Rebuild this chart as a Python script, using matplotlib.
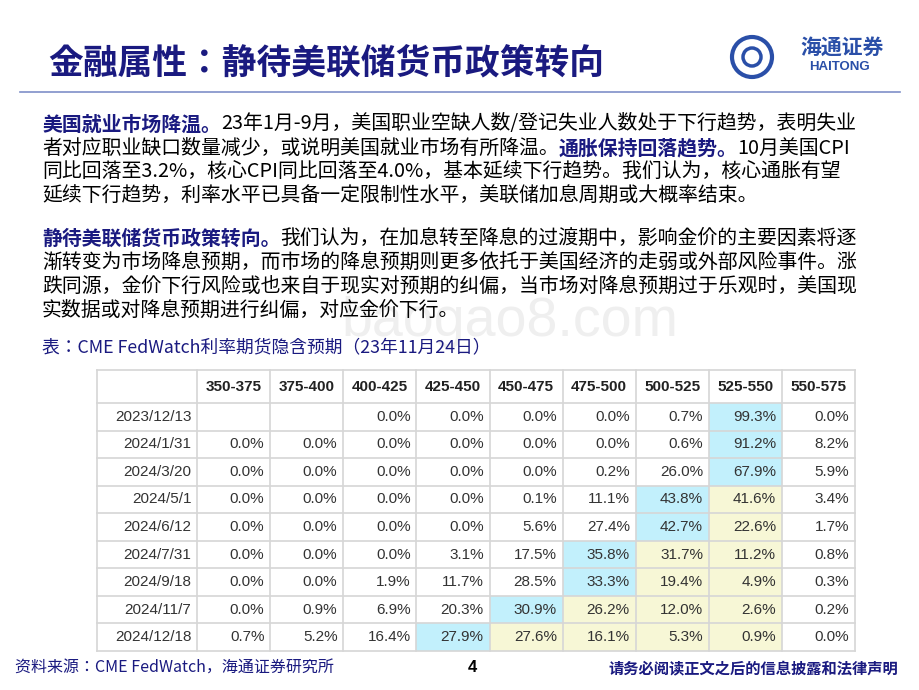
import matplotlib
matplotlib.use("Agg")
import matplotlib.pyplot as plt
from matplotlib.patches import Rectangle, Circle

FONT = "Noto Sans CJK JP"
NAVY = "#1a1a80"

title = "金融属性：静待美联储货币政策转向"
para1 = [
    [("b", "美国就业市场降温。"), ("n", "23年1月-9月，美国职业空缺人数/登记失业人数处于下行趋势，表明失业")],
    [("n", "者对应职业缺口数量减少，或说明美国就业市场有所降温。"), ("b", "通胀保持回落趋势。"), ("n", "10月美国CPI")],
    [("n", "同比回落至3.2%，核心CPI同比回落至4.0%，基本延续下行趋势。我们认为，核心通胀有望")],
    [("n", "延续下行趋势，利率水平已具备一定限制性水平，美联储加息周期或大概率结束。")],
]
para2 = [
    [("b", "静待美联储货币政策转向。"), ("n", "我们认为，在加息转至降息的过渡期中，影响金价的主要因素将逐")],
    [("n", "渐转变为市场降息预期，而市场的降息预期则更多依托于美国经济的走弱或外部风险事件。涨")],
    [("n", "跌同源，金价下行风险或也来自于现实对预期的纠偏，当市场对降息预期过于乐观时，美国现")],
    [("n", "实数据或对降息预期进行纠偏，对应金价下行。")],
]
caption = "表：CME FedWatch利率期货隐含预期（23年11月24日）"
source = "资料来源：CME FedWatch，海通证券研究所"
disclaimer = "请务必阅读正文之后的信息披露和法律声明"
page = "4"

columns = ["350-375", "375-400", "400-425", "425-450", "450-475", "475-500", "500-525", "525-550", "550-575"]
dates = ["2023/12/13", "2024/1/31", "2024/3/20", "2024/5/1", "2024/6/12", "2024/7/31", "2024/9/18", "2024/11/7", "2024/12/18"]
probs = [
    [None, None, 0.0, 0.0, 0.0, 0.0, 0.7, 99.3, 0.0],
    [0.0, 0.0, 0.0, 0.0, 0.0, 0.0, 0.6, 91.2, 8.2],
    [0.0, 0.0, 0.0, 0.0, 0.0, 0.2, 26.0, 67.9, 5.9],
    [0.0, 0.0, 0.0, 0.0, 0.1, 11.1, 43.8, 41.6, 3.4],
    [0.0, 0.0, 0.0, 0.0, 5.6, 27.4, 42.7, 22.6, 1.7],
    [0.0, 0.0, 0.0, 3.1, 17.5, 35.8, 31.7, 11.2, 0.8],
    [0.0, 0.0, 1.9, 11.7, 28.5, 33.3, 19.4, 4.9, 0.3],
    [0.0, 0.9, 6.9, 20.3, 30.9, 26.2, 12.0, 2.6, 0.2],
    [0.7, 5.2, 16.4, 27.9, 27.6, 16.1, 5.3, 0.9, 0.0],
]
current_col = "525-550"

W, H = 920, 690
fig = plt.figure(figsize=(W / 100, H / 100), dpi=100)
bg = fig.add_axes([0, 0, 1, 1])
bg.set_xlim(0, W); bg.set_ylim(H, 0); bg.axis("off")
fig.canvas.draw()
renderer = fig.canvas.get_renderer()

# header
bg.text(48, 63, title, fontfamily=FONT, fontsize=25, fontweight="bold", color=NAVY, va="center")
bg.plot([20, 900], [91.5, 91.5], color="#7f8fc8", lw=1.2)
# logo
bg.add_patch(Circle((752, 57), 20, fill=False, ec="#2a4fa8", lw=3))
bg.add_patch(Circle((752, 57), 9, fill=False, ec="#2a4fa8", lw=2.5))
bg.text(842, 47, "海通证券", fontfamily=FONT, fontsize=15, fontweight="bold", color="#2a4fa8", ha="center", va="center")
bg.text(840, 67, "HAITONG", fontfamily="Liberation Sans", fontsize=9.5, fontweight="bold", color="#2a4fa8", ha="center", va="center")

# watermark
bg.text(510, 322, "baogao8.com", fontfamily="Liberation Sans", fontsize=40, color="#efefef", ha="center", va="center", zorder=0)

FS = 14.3
def draw_line(runs, x, y):
    for style, s in runs:
        t = bg.text(x, y, s, fontfamily=FONT, fontsize=FS, va="center",
                    fontweight="bold" if style == "b" else "normal",
                    color=NAVY if style == "b" else "black")
        x += t.get_window_extent(renderer).width

for i, runs in enumerate(para1):
    draw_line(runs, 42, 124 + i * 24.2)
for i, runs in enumerate(para2):
    draw_line(runs, 42, 238 + i * 24)
bg.text(42, 347, caption, fontfamily=FONT, fontsize=12.8, color=NAVY, va="center")

# footer
bg.text(15, 668, source, fontfamily=FONT, fontsize=11.5, color=NAVY, va="center")
bg.text(472, 668, page, fontfamily="Liberation Sans", fontsize=12, fontweight="bold", va="center", ha="center")
bg.text(898, 668, disclaimer, fontfamily=FONT, fontsize=11, fontweight="bold", color=NAVY, va="center", ha="right")

# table
x0, x1, y0, y1 = 97, 855, 370, 651
tab = fig.add_axes([x0 / W, 1 - y1 / H, (x1 - x0) / W, (y1 - y0) / H])
tab.axis("off")
first_w = 100 / 73.0
edges = [0, first_w] + [first_w + i + 1 for i in range(len(columns))]
header_h = 33 / 27.5
nrows = len(dates)
tab.set_xlim(0, edges[-1]); tab.set_ylim(header_h + nrows, 0)
BLUE, YEL, GRID = "#c2f0fc", "#f7f7d6", "#d6d6d6"
cur = columns.index(current_col)
for r, row in enumerate(probs):
    vals = [v if v is not None else -1 for v in row]
    m = vals.index(max(vals))
    for c, v in enumerate(row):
        color = None
        if c == m:
            color = BLUE
        elif m < c <= cur:
            color = YEL
        if color:
            tab.add_patch(Rectangle((edges[c + 1], header_h + r), 1, 1, color=color, lw=0, zorder=0))
for c, name in enumerate(columns):
    tab.text(edges[c + 1] + 0.5, header_h / 2, name, fontfamily="Liberation Sans", fontsize=11,
             fontweight="bold", ha="center", va="center", color="#222")
for r, d in enumerate(dates):
    yc = header_h + r + 0.5
    tab.text(edges[1] - 0.08, yc, d, fontfamily="Liberation Sans", fontsize=11, ha="right", va="center", color="#333")
    for c, v in enumerate(probs[r]):
        if v is None:
            continue
        tab.text(edges[c + 2] - 0.08, yc, f"{v:.1f}%", fontfamily="Liberation Sans", fontsize=11,
                 ha="right", va="center", color="#333")
for e in edges:
    tab.plot([e, e], [0, header_h + nrows], color=GRID, lw=1.2, clip_on=False)
for yy in [0, header_h] + [header_h + i + 1 for i in range(nrows)]:
    tab.plot([0, edges[-1]], [yy, yy], color=GRID, lw=1.2, clip_on=False)

fig.savefig("out.png", dpi=100)
